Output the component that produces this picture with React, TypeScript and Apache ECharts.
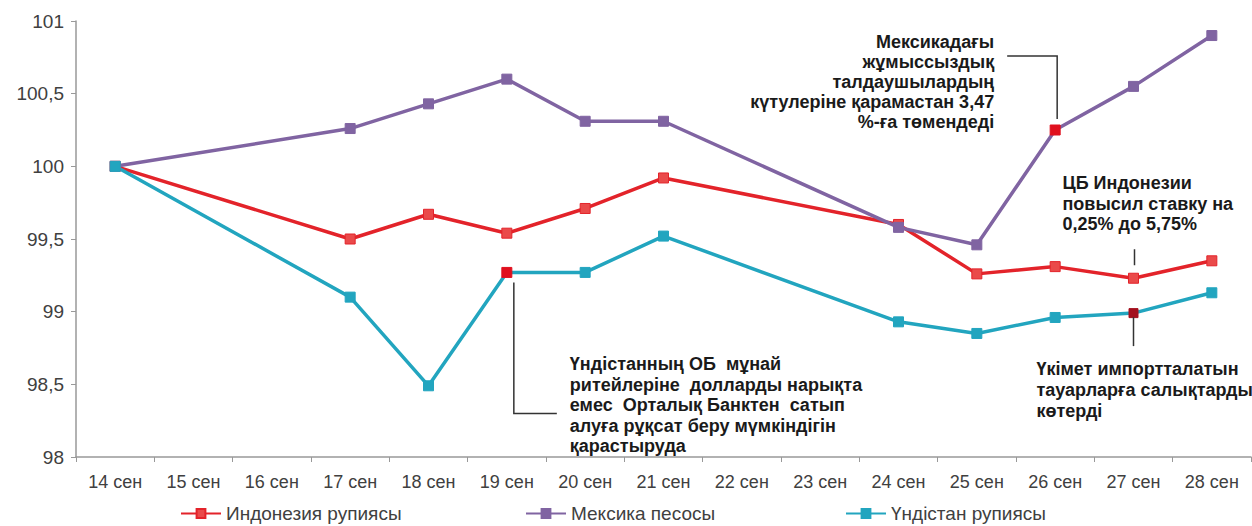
import React, { useEffect, useRef } from "react";
import * as echarts from "echarts";

const categories = ["14 сен", "15 сен", "16 сен", "17 сен", "18 сен", "19 сен", "20 сен", "21 сен", "22 сен", "23 сен", "24 сен", "25 сен", "26 сен", "27 сен", "28 сен"];
const indonesia: (number | null)[] = [100, null, null, 99.5, 99.67, 99.54, 99.71, 99.92, null, null, 99.6, 99.26, 99.31, 99.23, 99.35];
const mexico: (number | null)[] = [100, null, null, 100.26, 100.43, 100.6, 100.31, 100.31, null, null, 99.58, 99.46, 100.25, 100.55, 100.9];
const india: (number | null)[] = [100, null, null, 99.1, 98.49, 99.27, 99.27, 99.52, null, null, 98.93, 98.85, 98.96, 98.99, 99.13];
const seriesNames = ["Индонезия рупиясы", "Мексика песосы", "Үндістан рупиясы"];
const yTicks = { min: 98, max: 101, interval: 0.5 };

const note1 = ["Үндістанның ОБ  мұнай", "ритейлеріне  долларды нарықта", "емес  Орталық Банктен  сатып", "алуға рұқсат беру мүмкіндігін", "қарастыруда"];
const note2 = ["Мексикадағы", "жұмыссыздық", "талдаушылардың", "күтулеріне қарамастан 3,47", "%-ға төмендеді"];
const note3 = ["ЦБ Индонезии", "повысил ставку на", "0,25% до 5,75%"];
const note4 = ["Үкімет импортталатын", "тауарларға салықтарды", "көтерді"];

const RED = "#e3232a";
const PURPLE = "#8064a2";
const TEAL = "#22a5bf";
const FONT = "'Liberation Sans', Arial, sans-serif";

export default function App() {
  const ref = useRef<HTMLDivElement>(null);
  useEffect(() => {
    if (!ref.current) return;
    const chart = echarts.init(ref.current, null, { renderer: "svg" });

    const mk = (vals: (number | null)[], special: Record<number, { color: string; size?: number }>) =>
      vals.map((v, i) => {
        if (v === null) return null;
        if (special[i]) {
          return { value: v, symbolSize: special[i].size ?? 10, itemStyle: { color: special[i].color, borderColor: special[i].color } };
        }
        return { value: v };
      });

    const lineSeries = (name: string, data: any[], color: string, fill: string) => ({
      name,
      type: "line",
      data,
      connectNulls: true,
      symbol: "rect",
      symbolSize: 10,
      showSymbol: true,
      lineStyle: { color, width: 3.5 },
      itemStyle: { color: fill, borderColor: color, borderWidth: 1 },
      z: 3,
    });

    const legendBase = {
      bottom: -2,
      itemWidth: 40,
      itemHeight: 11,
      itemGap: 4,
      textStyle: { color: "#404040", fontSize: 19, fontFamily: FONT },
    };

    chart.setOption({
      animation: false,
      textStyle: { fontFamily: FONT },
      grid: { left: 76, right: 1, top: 21, bottom: 69, containLabel: false },
      legend: [
        { ...legendBase, left: 175, data: [seriesNames[0]] },
        { ...legendBase, left: 520, data: [seriesNames[1]] },
        { ...legendBase, left: 840, data: [seriesNames[2]] },
      ],
      xAxis: {
        type: "category",
        data: categories,
        boundaryGap: true,
        axisLine: { lineStyle: { color: "#999", width: 1.5 } },
        axisTick: { show: true, length: 5, lineStyle: { color: "#999" } },
        axisLabel: { color: "#404040", fontSize: 18, margin: 16, fontFamily: FONT },
        splitLine: { show: false },
      },
      yAxis: {
        type: "value",
        min: yTicks.min,
        max: yTicks.max,
        interval: yTicks.interval,
        axisLine: { show: true, lineStyle: { color: "#999", width: 1.5 } },
        axisTick: { show: true, length: 5, lineStyle: { color: "#999" } },
        axisLabel: {
          color: "#404040",
          fontSize: 19,
          margin: 12,
          fontFamily: FONT,
          formatter: (v: number) => String(v).replace(".", ","),
        },
        splitLine: { show: false },
      },
      series: [
        lineSeries(seriesNames[0], mk(indonesia, {}), RED, "#ea4a4a"),
        lineSeries(seriesNames[1], mk(mexico, { 12: { color: "#e0101e" } }), PURPLE, PURPLE),
        lineSeries(seriesNames[2], mk(india, { 5: { color: "#e0101e" }, 13: { color: "#a3101e", size: 9 } }), TEAL, TEAL),
      ],
    });

    const px = (si: number, idx: number, val: number) => chart.convertToPixel({ seriesIndex: si }, [idx, val]) as number[];
    const p1 = px(2, 5, india[5] as number);
    const p2 = px(1, 12, mexico[12] as number);
    const p3 = px(0, 13, indonesia[13] as number);
    const p4 = px(2, 13, india[13] as number);

    const lineStyle = { stroke: "#333", lineWidth: 1.5 };
    const textBlock = (lines: string[], x: number, yCenter0: number, align: "left" | "right", lh: number) =>
      lines.map((t, i) => ({
        type: "text",
        x,
        y: yCenter0 + i * lh,
        style: {
          text: t,
          fill: "#1a1a1a",
          font: `bold 18px ${FONT}`,
          align,
          verticalAlign: "middle",
        },
        z: 10,
      }));

    chart.setOption({
      graphic: [
        { type: "polyline", shape: { points: [[p1[0] + 7, p1[1] + 10], [p1[0] + 7, p1[1] + 141], [p1[0] + 50, p1[1] + 141]] }, style: { ...lineStyle, fill: "none" }, z: 10 },
        ...textBlock(note1, p1[0] + 63, p1[1] + 92, "left", 20.5),
        { type: "polyline", shape: { points: [[p2[0] - 48, p2[1] - 74], [p2[0] + 2, p2[1] - 74], [p2[0] + 2, p2[1] - 11]] }, style: { ...lineStyle, fill: "none" }, z: 10 },
        ...textBlock(note2, p2[0] - 61, p2[1] - 88, "right", 20),
        { type: "line", shape: { x1: p3[0] + 1, y1: p3[1] - 29, x2: p3[0] + 1, y2: p3[1] - 13 }, style: lineStyle, z: 10 },
        ...textBlock(note3, p3[0] - 71, p3[1] - 95, "left", 20.5),
        { type: "line", shape: { x1: p4[0], y1: p4[1] + 4, x2: p4[0], y2: p4[1] + 33 }, style: lineStyle, z: 10 },
        ...textBlock(note4, p4[0] - 97, p4[1] + 56, "left", 21),
      ],
    });

    return () => chart.dispose();
  }, []);
  return <div ref={ref} style={{ position: "fixed", left: 0, top: 0, width: 1252, height: 526, background: "#fff" }} />;
}
